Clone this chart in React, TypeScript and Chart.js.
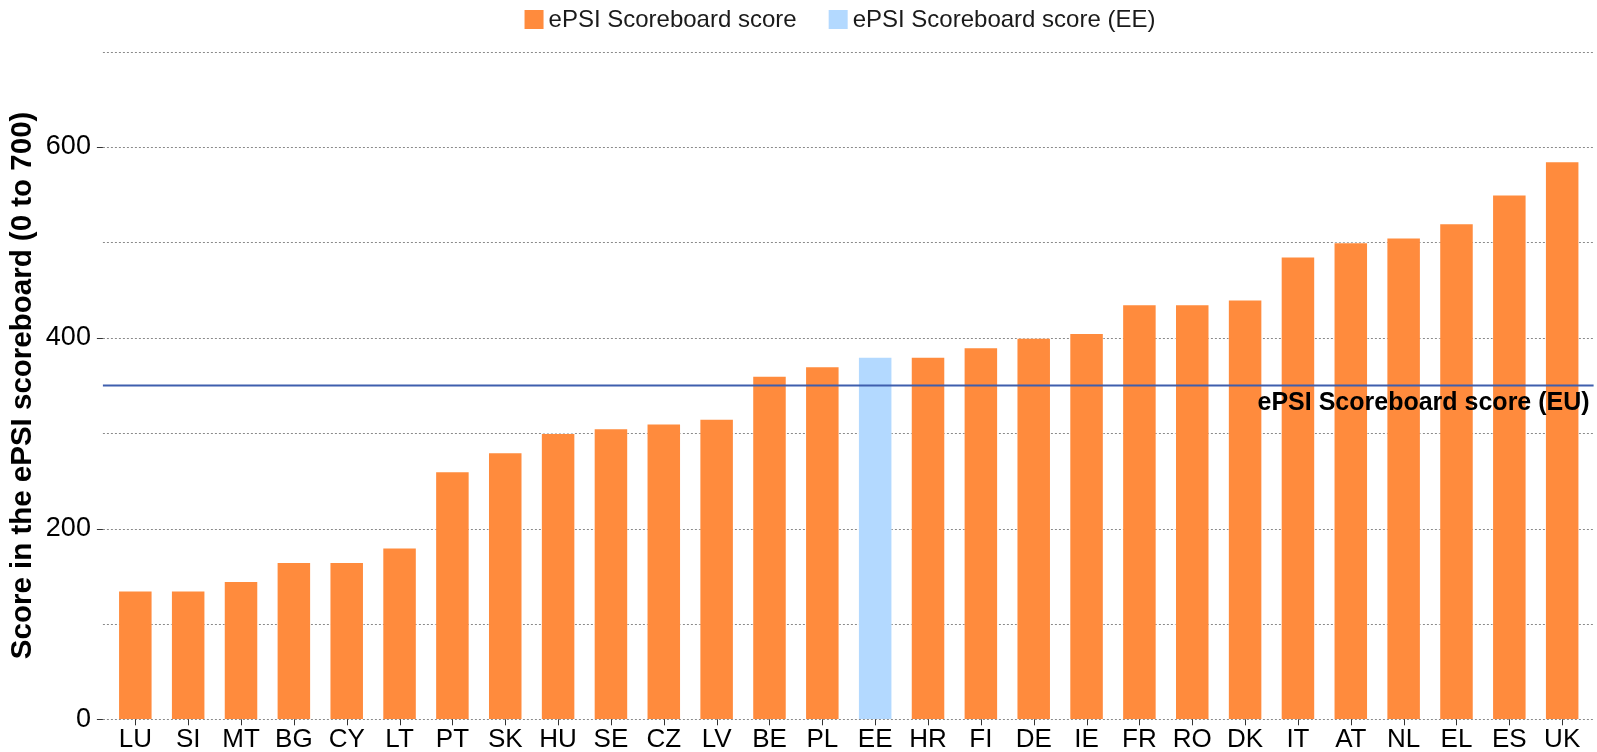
import React, { useEffect, useRef } from "react";
import { Chart, registerables } from "chart.js";

Chart.register(...registerables);

const categories = ["LU", "SI", "MT", "BG", "CY", "LT", "PT", "SK", "HU", "SE", "CZ", "LV", "BE", "PL", "EE", "HR", "FI", "DE", "IE", "FR", "RO", "DK", "IT", "AT", "NL", "EL", "ES", "UK"];
const scores = [135, 135, 145, 165, 165, 180, 260, 280, 300, 305, 310, 315, 360, 370, 380, 380, 390, 400, 405, 435, 435, 440, 485, 500, 505, 520, 550, 585];
const highlightCategory = "EE";
const euScore = 350;
const gridValues = [0, 100, 200, 300, 400, 500, 600, 700];
const labelledTicks = [0, 200, 400, 600];
const legendLabels = ["ePSI Scoreboard score", "ePSI Scoreboard score (EE)"];
const euLabel = "ePSI Scoreboard score (EU)";
const yTitle = "Score in the ePSI scoreboard (0 to 700)";

const ORANGE = "#FF8B3D";
const BLUE = "#B3D9FF";
const EU_BLUE = "#3F5FAE";
const FONT = "'Liberation Sans', Arial, Helvetica, sans-serif";

export default function App() {
  const ref = useRef<HTMLCanvasElement | null>(null);

  useEffect(() => {
    const canvas = ref.current;
    if (!canvas) return;

    const decor = {
      id: "decor",
      beforeDatasetsDraw(chart: any) {
        const { ctx, chartArea, scales } = chart;
        const y = scales.y;
        const x = scales.x;
        ctx.save();
        ctx.strokeStyle = "#8a8a8a";
        ctx.lineWidth = 1;
        ctx.setLineDash([2, 2]);
        gridValues.forEach((v) => {
          const py = Math.round(y.getPixelForValue(v)) + 0.5;
          ctx.beginPath();
          ctx.moveTo(chartArea.left - 6, py);
          ctx.lineTo(chartArea.right + 5, py);
          ctx.stroke();
        });
        ctx.setLineDash([]);
        ctx.strokeStyle = "#333";
        labelledTicks.forEach((v) => {
          const py = Math.round(y.getPixelForValue(v)) + 0.5;
          ctx.beginPath();
          ctx.moveTo(chartArea.left - 12, py);
          ctx.lineTo(chartArea.left - 6, py);
          ctx.stroke();
        });
        categories.forEach((_, i) => {
          const px = Math.round(x.getPixelForValue(i)) + 0.5;
          ctx.beginPath();
          ctx.moveTo(px, chartArea.bottom);
          ctx.lineTo(px, chartArea.bottom + 6);
          ctx.stroke();
        });
        ctx.restore();
      },
      afterDatasetsDraw(chart: any) {
        const { ctx, chartArea, scales } = chart;
        const py = scales.y.getPixelForValue(euScore);
        ctx.save();
        ctx.strokeStyle = EU_BLUE;
        ctx.lineWidth = 2;
        ctx.beginPath();
        ctx.moveTo(chartArea.left - 6, py);
        ctx.lineTo(chartArea.right + 5, py);
        ctx.stroke();
        ctx.fillStyle = "#000";
        ctx.font = `bold 25px ${FONT}`;
        ctx.textAlign = "right";
        ctx.textBaseline = "alphabetic";
        ctx.fillText(euLabel, chartArea.right + 1, py + 25);
        ctx.restore();
      },
      afterDraw(chart: any) {
        const { ctx } = chart;
        ctx.save();
        ctx.font = `24px ${FONT}`;
        const box = 19;
        const gap = 5;
        const itemGap = 32;
        const widths = legendLabels.map((t) => ctx.measureText(t).width);
        const total = widths.reduce((a, w) => a + box + gap + w, 0) + itemGap * (legendLabels.length - 1);
        let lx = 840 - total / 2;
        const colors = [ORANGE, BLUE];
        legendLabels.forEach((t, i) => {
          ctx.fillStyle = colors[i];
          ctx.fillRect(lx, 10, box, box);
          ctx.fillStyle = "#1a1a1a";
          ctx.textAlign = "left";
          ctx.textBaseline = "middle";
          ctx.fillText(t, lx + box + gap, 20);
          lx += box + gap + widths[i] + itemGap;
        });
        ctx.restore();
      },
    };

    const chart = new Chart(canvas, {
      type: "bar",
      data: {
        labels: categories,
        datasets: [
          {
            label: legendLabels[0],
            data: scores,
            backgroundColor: categories.map((c) => (c === highlightCategory ? BLUE : ORANGE)),
            borderColor: "rgba(255,255,255,0.45)",
            borderWidth: 1,
            barPercentage: 0.653,
            categoryPercentage: 1,
          },
        ],
      },
      options: {
        animation: false,
        responsive: true,
        maintainAspectRatio: false,
        layout: { padding: { top: 51.5, right: 8.4, left: 0, bottom: 0 } },
        plugins: {
          legend: { display: false },
          tooltip: { enabled: false },
        },
        scales: {
          x: {
            type: "category",
            grid: { display: false, drawTicks: false },
            border: { display: false },
            ticks: {
              color: "#000",
              padding: 5,
              autoSkip: false,
              maxRotation: 0,
              font: { family: FONT, size: 26 },
            },
            afterFit(scale: any) {
              scale.height = 32.7;
              scale.paddingLeft = 0;
              scale.paddingRight = 0;
            },
          },
          y: {
            min: 0,
            max: 700,
            grid: { display: false, drawTicks: false },
            border: { display: false },
            ticks: {
              stepSize: 100,
              color: "#000",
              padding: 18,
              font: { family: FONT, size: 27 },
              callback: (v: any) => (labelledTicks.includes(Number(v)) ? String(v) : ""),
            },
            title: {
              display: true,
              text: yTitle,
              color: "#000",
              font: { family: FONT, size: 29.5, weight: "bold" },
              padding: { top: 5, bottom: 0 },
            },
            afterFit(scale: any) {
              scale.width = 108.9;
              scale.paddingTop = 0;
              scale.paddingBottom = 0;
            },
          },
        },
      },
      plugins: [decor],
    });

    return () => chart.destroy();
  }, []);

  return (
    <div style={{ position: "fixed", left: 0, top: 0, width: 1597, height: 752, background: "#fff" }}>
      <canvas ref={ref} />
    </div>
  );
}
